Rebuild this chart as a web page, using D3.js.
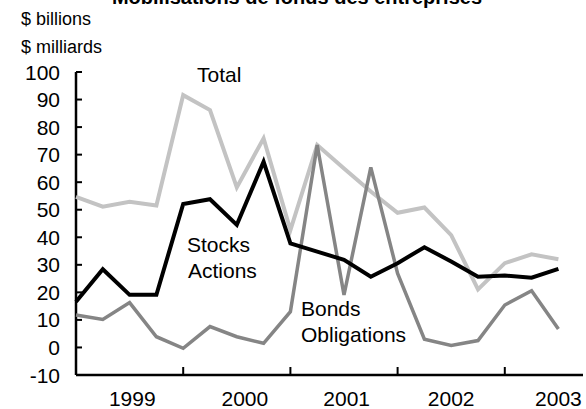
<!DOCTYPE html>
<html>
<head>
<meta charset="utf-8">
<script src="https://cdn.jsdelivr.net/npm/d3@7"></script>
<style>
  body { margin: 0; background: #fff; }
  svg { font-family: "Liberation Sans", Arial, sans-serif; }
</style>
</head>
<body>
<svg class="chart" width="586" height="409"></svg>
<script>
  // quarterly values, $ billions
  var quarters = ["Q1","Q2","Q3","Q4","Q1","Q2","Q3","Q4","Q1","Q2","Q3","Q4","Q1","Q2","Q3","Q4","Q1","Q2","Q3"];
  var total  = [54.7, 51.1, 52.9, 51.5, 91.6, 86.2, 58.1, 75.9, 42.6, 73.5, 65.0, 56.6, 48.9, 50.8, 40.8, 21.1, 30.6, 33.8, 32.0];
  var stocks = [16.6, 28.4, 19.1, 19.1, 52.1, 53.8, 44.5, 67.4, 37.8, 34.8, 31.8, 25.7, 30.6, 36.4, 31.2, 25.7, 26.1, 25.3, 28.5];
  var bonds  = [11.8, 10.2, 16.3, 3.9, -0.3, 7.6, 3.9, 1.5, 13.0, 73.5, 19.1, 65.4, 26.9, 3.0, 0.7, 2.5, 15.4, 20.6, 6.7];

  var yTicks = [-10, 0, 10, 20, 30, 40, 50, 60, 70, 80, 90, 100];
  var yearTicks = [4, 8, 12, 16];              // year boundaries (quarter index)
  var yearLabels = ["1999", "2000", "2001", "2002", "2003"];
  var yearLabelPos = [2.1, 6.3, 10.1, 14, 18];

  var plotLeft = 76, plotRight = 583, plotTop = 72, plotBottom = 375;

  var x = d3.scaleLinear()
      .domain([0, 18])
      .range([plotLeft, 558.4]);

  var y = d3.scaleLinear()
      .domain([-10, 100])
      .range([plotBottom, plotTop]);

  var chart = d3.select(".chart");

  // title (clipped at top like original)
  chart.append("text")
      .attr("x", 297)
      .attr("y", 4)
      .attr("text-anchor", "middle")
      .style("font-size", "20px")
      .style("font-weight", "bold")
      .text("Mobilisations de fonds des entreprises");

  chart.append("text").attr("x", 21).attr("y", 25).style("font-size", "18px").text("$ billions");
  chart.append("text").attr("x", 21).attr("y", 53).style("font-size", "18px").text("$ milliards");

  // y axis
  chart.append("line")
      .attr("x1", plotLeft).attr("x2", plotLeft)
      .attr("y1", y(100)).attr("y2", plotBottom)
      .attr("stroke", "#000").attr("stroke-width", 2.5);

  var yt = chart.selectAll(".ytick")
      .data(yTicks)
    .enter().append("g")
      .attr("class", "ytick")
      .attr("transform", function(d) { return "translate(0," + y(d) + ")"; });

  yt.append("line")
      .attr("x1", plotLeft).attr("x2", plotLeft + 6)
      .attr("stroke", "#000").attr("stroke-width", 2);

  yt.append("text")
      .attr("x", 60)
      .attr("dy", ".36em")
      .attr("text-anchor", "end")
      .style("font-size", "21px")
      .text(function(d) { return d; });

  // x axis
  chart.append("line")
      .attr("x1", plotLeft).attr("x2", plotRight)
      .attr("y1", plotBottom).attr("y2", plotBottom)
      .attr("stroke", "#000").attr("stroke-width", 2.5);

  chart.selectAll(".xtick")
      .data(yearTicks)
    .enter().append("line")
      .attr("class", "xtick")
      .attr("x1", function(d) { return x(d); })
      .attr("x2", function(d) { return x(d); })
      .attr("y1", plotBottom).attr("y2", plotBottom - 8)
      .attr("stroke", "#000").attr("stroke-width", 2);

  chart.selectAll(".xlabel")
      .data(yearLabels)
    .enter().append("text")
      .attr("class", "xlabel")
      .attr("x", function(d, i) { return x(yearLabelPos[i]); })
      .attr("y", 406)
      .attr("text-anchor", "middle")
      .style("font-size", "21px")
      .text(function(d) { return d; });

  // lines
  var line = d3.line()
      .x(function(d, i) { return x(i); })
      .y(function(d) { return y(d); });

  var series = [
    { values: total,  color: "#c3c3c3", width: 4 },
    { values: bonds,  color: "#858585", width: 3.5 },
    { values: stocks, color: "#000000", width: 4 }
  ];

  chart.selectAll(".series")
      .data(series)
    .enter().append("path")
      .attr("class", "series")
      .attr("d", function(d) { return line(d.values); })
      .attr("fill", "none")
      .attr("stroke", function(d) { return d.color; })
      .attr("stroke-width", function(d) { return d.width; });

  // series labels
  var labels = [
    { text: "Total", x: 197, y: 82 },
    { text: "Stocks", x: 187, y: 252 },
    { text: "Actions", x: 188, y: 278 },
    { text: "Bonds", x: 301, y: 316 },
    { text: "Obligations", x: 301, y: 342 }
  ];

  chart.selectAll(".lbl")
      .data(labels)
    .enter().append("text")
      .attr("class", "lbl")
      .attr("x", function(d) { return d.x; })
      .attr("y", function(d) { return d.y; })
      .style("font-size", "21px")
      .text(function(d) { return d.text; });
</script>
</body>
</html>
